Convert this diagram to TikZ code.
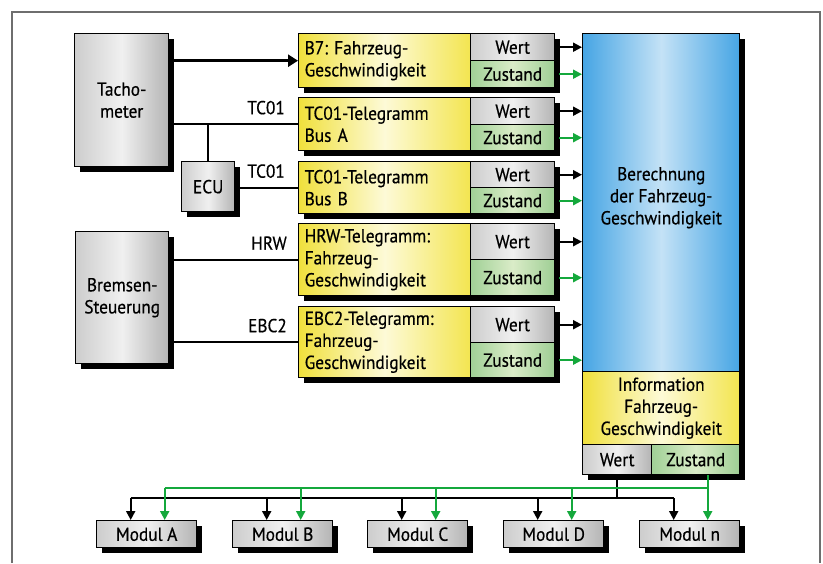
\documentclass[tikz,border=0pt]{standalone}
\usepackage{fontspec}
\setmainfont{PT Sans}[FakeStretch=0.92, FakeBold=0.5]
\usetikzlibrary{arrows.meta,shadows,calc}

\definecolor{grayL}{RGB}{205,205,205}
\definecolor{grayM}{RGB}{240,240,240}
\definecolor{grayR}{RGB}{180,180,180}
\definecolor{yelL}{RGB}{240,224,60}
\definecolor{yelM}{RGB}{253,250,215}
\definecolor{yelR}{RGB}{243,229,80}
\definecolor{grnL}{RGB}{160,208,150}
\definecolor{grnM}{RGB}{218,236,200}
\definecolor{grnR}{RGB}{158,206,148}
\definecolor{bluL}{RGB}{70,165,228}
\definecolor{bluM}{RGB}{196,226,246}
\definecolor{bluR}{RGB}{70,165,228}
\definecolor{sigGreen}{RGB}{20,168,60}
\definecolor{frameGray}{RGB}{110,110,110}

\newcommand\dfont{\fontsize{18.8}{22}\selectfont\frenchspacing}

\tikzset{
  box/.style={draw=black, line width=1.4pt, inner sep=0pt, anchor=north west,
    align=center, font=\dfont},
  shadowed/.style={drop shadow={shadow xshift=5pt, shadow yshift=-5pt,
    opacity=1, fill=black}},
  grayfill/.style={left color=grayL, right color=grayR, middle color=grayM},
  yelfill/.style={left color=yelL, right color=yelR, middle color=yelM},
  grnfill/.style={left color=grnL, right color=grnR, middle color=grnM},
  blufill/.style={left color=bluL, right color=bluR, middle color=bluM},
  wire/.style={draw=black, line width=2pt},
  fatarrow/.style={draw=black, line width=2.8pt, -{Triangle[width=12pt,length=10pt]}},
  blkarrow/.style={draw=black, line width=2pt, -{Triangle[width=9pt,length=9pt]}},
  grnarrow/.style={draw=sigGreen, line width=2pt, -{Triangle[width=9pt,length=9pt]}},
  grnwire/.style={draw=sigGreen, line width=2pt},
  lbl/.style={font=\dfont, inner sep=0pt, anchor=base east},
}

% telegram block: name, top, split, bottom, text
\newcommand\telegram[5]{%
  \node[box, yelfill, shadowed, minimum width=172pt, minimum height={(#4-#2)*1pt},
    text width=160pt, inner xsep=6pt, align=left] (#1) at (298,#2) {#5};
  \node[box, grayfill, shadowed, minimum width=84pt, minimum height={(#3-#2)*1pt}]
    (#1w) at (470,#2) {Wert};
  \node[box, grnfill, shadowed, minimum width=84pt, minimum height={(#4-#3)*1pt}]
    (#1z) at (470,#3) {Zustand};
}

\begin{document}
\begin{tikzpicture}[x=1pt, y=-1pt]
\useasboundingbox (0,0) rectangle (823,563);

% outer frame (open at the bottom)
\draw[frameGray, line width=1.4pt] (12,563) -- (12,12) -- (820,12) -- (820,563);

% sources
\node[box, grayfill, shadowed, minimum width=94pt, minimum height=133pt] (tacho) at (74,33) {Tacho-\\meter};
\node[box, grayfill, shadowed, minimum width=53pt, minimum height=50pt] (ecu) at (181,161) {ECU};
\node[box, grayfill, shadowed, minimum width=93pt, minimum height=132pt] (brems) at (75,231) {Bremsen-\\Steuerung};

% telegrams
\telegram{b7}{33}{60}{87}{B7: Fahrzeug-\\Geschwindigkeit}
\telegram{tca}{97}{124}{150}{TC01-Telegramm\\Bus A}
\telegram{tcb}{161}{187}{213}{TC01-Telegramm\\Bus B}
\telegram{hrw}{223}{259}{295}{HRW-Telegramm:\\Fahrzeug-\\Geschwindigkeit}
\telegram{ebc}{306}{342}{377}{EBC2-Telegramm:\\Fahrzeug-\\Geschwindigkeit}

% calculation column
\node[box, blufill, shadowed, minimum width=157pt, minimum height=338pt] (calc) at (582,33) {Berechnung\\der Fahrzeug-\\Geschwindigkeit\\[-8pt]};
\node[box, yelfill, shadowed, minimum width=157pt, minimum height=73pt] (info) at (582,371) {Information\\Fahrzeug-\\Geschwindigkeit};
\node[box, grayfill, shadowed, minimum width=69pt, minimum height=30pt] (ow) at (582,444) {Wert};
\node[box, grnfill, shadowed, minimum width=88pt, minimum height=30pt] (oz) at (651,444) {Zustand};

% modules
\node[box, grayfill, shadowed, minimum width=100pt, minimum height=27pt] (ma) at (96,520) {Modul A};
\node[box, grayfill, shadowed, minimum width=100pt, minimum height=27pt] (mb) at (232,520) {Modul B};
\node[box, grayfill, shadowed, minimum width=100pt, minimum height=27pt] (mc) at (367,520) {Modul C};
\node[box, grayfill, shadowed, minimum width=100pt, minimum height=27pt] (md) at (503,520) {Modul D};
\node[box, grayfill, shadowed, minimum width=100pt, minimum height=27pt] (mn) at (639,520) {Modul n};

% source connections
\draw[fatarrow] (tacho.east |- b7.west) -- (b7.west);
\draw[wire] (tacho.east |- tca.west) -- (tca.west);
\draw[wire] (ecu.north) -- (ecu.north |- tca.west);
\draw[wire] (ecu.east |- tcb.west) -- (tcb.west);
\draw[wire] (brems.east |- hrw.west) -- (hrw.west);
\draw[wire] (brems.east |- ebc.west) -- (ebc.west);

\node[lbl] (ltca) at ([xshift=-13pt, yshift=10pt]tca.west) {TC01};
\node[lbl] (ltcb) at ([xshift=-13pt, yshift=10pt]tcb.west) {TC01};
\node[lbl] (lhrw) at ([xshift=-11pt, yshift=10pt]hrw.west) {HRW};
\node[lbl] (lebc) at ([xshift=-11pt, yshift=10pt]ebc.west) {EBC2};

% value and state into the calculation
\foreach \t in {b7,tca,tcb,hrw,ebc}{
  \draw[blkarrow] (\t w.east) -- (\t w.east -| calc.west);
  \draw[grnarrow] ([xshift=4pt]\t z.east) -- (\t z.east -| calc.west);
}

% distribution to the modules
\coordinate (bbus) at (0,498);
\coordinate (gbus) at (0,488);
\foreach \m in {ma,mb,mc,md,mn}{
  \coordinate (\m B) at ([xshift=-16pt]\m.north);
  \coordinate (\m G) at ([xshift=18pt]\m.north);
}
\draw[wire] (ow.south) -- (ow.south |- bbus);
\draw[wire] (maB |- bbus) -- (mnB |- bbus);
\draw[grnwire] (maG |- gbus) -- (mnG |- gbus);
\foreach \m in {ma,mb,mc,md,mn}{
  \draw[blkarrow] (\m B |- bbus) -- (\m B);
}
\foreach \m in {ma,mb,mc,md}{
  \draw[grnarrow] (\m G |- gbus) -- (\m G);
}
\draw[grnarrow] (mnG |- oz.south) -- (mnG);
\end{tikzpicture}
\end{document}
